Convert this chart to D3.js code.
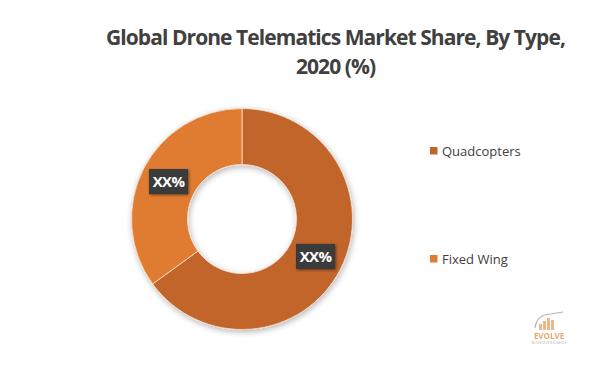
<!DOCTYPE html>
<html><head><meta charset="utf-8">
<script src="https://cdn.jsdelivr.net/npm/d3@7/dist/d3.min.js"></script>
<style>html,body{margin:0;padding:0;background:#fff;}svg{display:block;}</style>
</head><body>
<svg id="chart" width="600" height="367"></svg>
<script>
const titleLines = ["Global Drone Telematics Market Share, By Type,", "2020 (%)"];
const categories = ["Quadcopters", "Fixed Wing"];
const values = [65, 35];
const labels = ["XX%", "XX%"];
const colors = ["#C1652A", "#E07B33"];

const svg = d3.select("#chart");
const defs = svg.append("defs");
const sh = defs.append("filter").attr("id","shadow").attr("x","-20%").attr("y","-20%").attr("width","140%").attr("height","140%");
sh.append("feGaussianBlur").attr("in","SourceAlpha").attr("stdDeviation",3);
sh.append("feOffset").attr("dx",1).attr("dy",2).attr("result","b");
sh.append("feComponentTransfer").append("feFuncA").attr("type","linear").attr("slope",0.3);
const m1 = sh.append("feMerge"); m1.append("feMergeNode"); m1.append("feMergeNode").attr("in","SourceGraphic");
const ls = defs.append("filter").attr("id","lshadow").attr("x","-30%").attr("y","-30%").attr("width","160%").attr("height","160%");
ls.append("feGaussianBlur").attr("in","SourceAlpha").attr("stdDeviation",1.5);
ls.append("feOffset").attr("dx",1).attr("dy",1).attr("result","b");
ls.append("feComponentTransfer").append("feFuncA").attr("type","linear").attr("slope",0.5);
const m2 = ls.append("feMerge"); m2.append("feMergeNode"); m2.append("feMergeNode").attr("in","SourceGraphic");

// Title
const title = svg.append("text").attr("text-anchor","middle")
  .attr("font-family","'Open Sans', sans-serif").attr("font-weight","bold")
  .attr("fill","#404040").attr("font-size",21);
titleLines.forEach((t,i)=>{
  title.append("tspan").attr("x",335.5).attr("y", i===0?45:74).text(t);
});
// fit first line width to ~459px via letter-spacing
const firstTs = title.select("tspan").node();
const w = firstTs.getComputedTextLength();
const n = titleLines[0].length;
const lsp = Math.max(-1, Math.min(0, (459 - w) / n));
title.attr("letter-spacing", lsp);

// Donut
const cx = 242, cy = 219, rOuter = 110.5, rInner = 54.5;
const pie = d3.pie().sort(null).value(d=>d)(values);
const arc = d3.arc().innerRadius(rInner).outerRadius(rOuter);
const g = svg.append("g").attr("transform",`translate(${cx},${cy})`);
g.append("g").attr("filter","url(#shadow)").selectAll("path").data(pie).join("path")
  .attr("d",arc).attr("fill",(d,i)=>colors[i]).attr("stroke","#fbe3d2").attr("stroke-width",0.8);

// Labels
const lab = g.selectAll("g.lab").data(pie).join("g").attr("class","lab")
  .attr("transform",d=>{const c=arc.centroid(d);return `translate(${c[0]},${c[1]})`;});
lab.append("rect").attr("x",-19.5).attr("y",-12.5).attr("width",39).attr("height",25)
  .attr("fill","#3a3a3a").attr("filter","url(#lshadow)");
lab.append("text").attr("text-anchor","middle").attr("dy","0.36em")
  .attr("font-family","'Open Sans', sans-serif").attr("font-weight","bold").attr("font-size",15)
  .attr("letter-spacing","-0.6").attr("fill","#fff").text((d,i)=>labels[i]);

// Legend
const leg = svg.append("g").selectAll("g").data(categories).join("g")
  .attr("transform",(d,i)=>`translate(430,${151 + i*108})`);
leg.append("rect").attr("x",0).attr("y",-4).attr("width",7.5).attr("height",7.5).attr("fill",(d,i)=>colors[i]);
leg.append("text").attr("x",12).attr("y",5).attr("font-family","'Open Sans', sans-serif")
  .attr("font-size",13).attr("fill","#404040").text(d=>d);

// Logo
const logo = svg.append("g").attr("transform","translate(549,330)").attr("opacity",0.75);
[[-10,-6,3,6],[-6,-9,3,9],[-2,-12,3,12],[2,-10,3,10]].forEach(b=>{
  logo.append("rect").attr("x",b[0]).attr("y",b[1]).attr("width",b[2]).attr("height",b[3]).attr("fill","#E8A060");
});
logo.append("path").attr("d","M-14,-2 Q-12,-16 2,-16 L14,-18").attr("fill","none").attr("stroke","#999").attr("stroke-width",1.2);
logo.append("text").attr("y",9).attr("text-anchor","middle").attr("font-family","'Open Sans', sans-serif")
  .attr("font-weight","bold").attr("font-size",8).attr("fill","#E08A40").text("EVOLVE");
logo.append("text").attr("y",14).attr("text-anchor","middle").attr("font-family","'Open Sans', sans-serif")
  .attr("font-size",3).attr("fill","#999").text("BUSINESS INTELLIGENCE");
</script>
</body></html>
